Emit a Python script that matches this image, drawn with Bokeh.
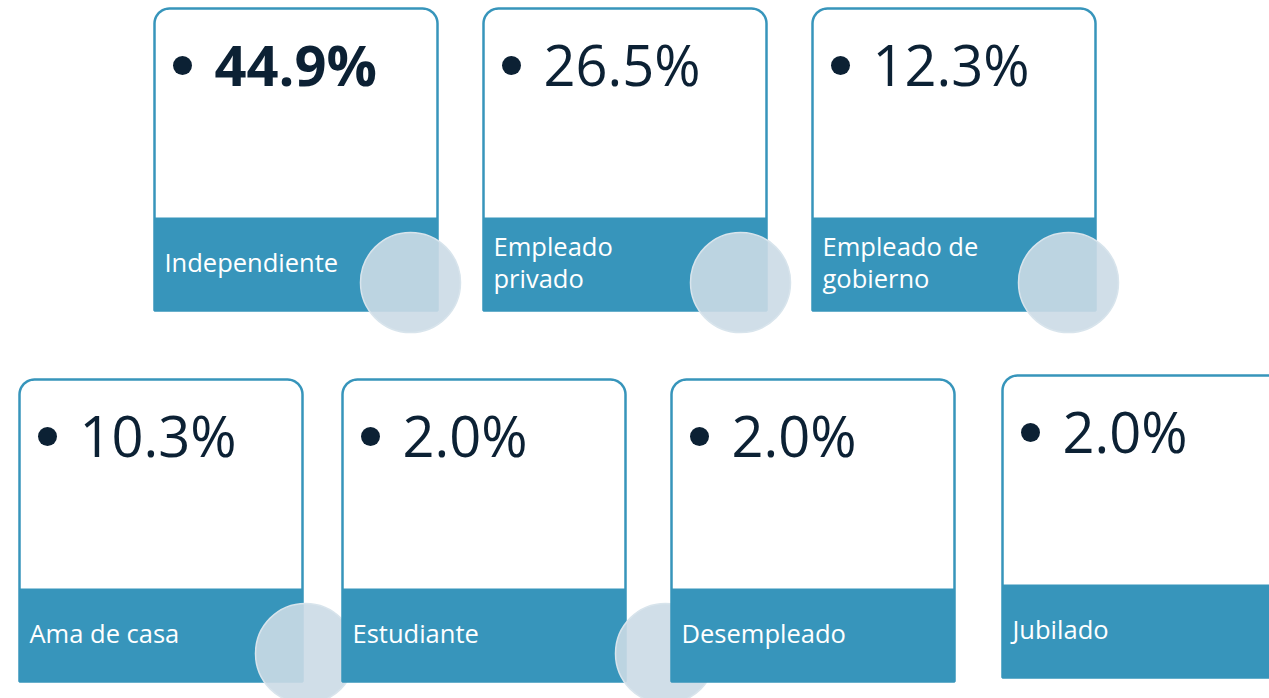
from bokeh.plotting import figure
from bokeh.models import Range1d
from bokeh.core.properties import value
from bokeh.embed import file_html
from bokeh.resources import INLINE
import numpy as np

# ---- data ----
categories = ["Independiente", "Empleado\nprivado", "Empleado de\ngobierno",
              "Ama de casa", "Estudiante", "Desempleado", "Jubilado"]
percentages = [44.9, 26.5, 12.3, 10.3, 2.0, 2.0, 2.0]

# ---- layout (page pixels) ----
card_left = [154, 483, 812, 19, 342, 671, 1002]
card_top = [8, 8, 8, 379, 379, 379, 375]
circle_dx = [256, 257, 256, 286, 323, None, None]
CARD_W, CARD_H, BAND_H, CORNER = 283, 302, 93, 15
CIRCLE_DY, CIRCLE_R = 274, 50

BLUE = "#3795bb"
DARK = "#0c2134"
FONT = "Open Sans"
VAL_SIZE, LAB_SIZE = 56, 25.5
BASE_SHIFT = 0.43  # bokeh places alphabetic baseline ~0.43em lower

W, H = 1269, 698
p = figure(width=W, height=H, output_backend="svg", toolbar_location=None,
           x_range=Range1d(0, W), y_range=Range1d(H, 0),
           min_border=0, outline_line_color=None)
p.axis.visible = False
p.grid.visible = False
p.background_fill_color = "white"
p.border_fill_color = "white"


def card_outline(x0, y0, w, h, r):
    t1 = np.linspace(np.pi, 1.5 * np.pi, 12)
    t2 = np.linspace(1.5 * np.pi, 2 * np.pi, 12)
    xs = [x0] + list(x0 + r + r * np.cos(t1)) + list(x0 + w - r + r * np.cos(t2)) + [x0 + w]
    ys = [y0 + h] + list(y0 + r + r * np.sin(t1)) + list(y0 + r + r * np.sin(t2)) + [y0 + h]
    return xs, ys


for i, cat in enumerate(categories):
    x0, y0 = card_left[i], card_top[i]
    xs, ys = card_outline(x0, y0, CARD_W, CARD_H, CORNER)
    p.patch(xs, ys, fill_color="white", line_color=BLUE, line_width=2.5)
    p.quad(left=[x0], right=[x0 + CARD_W], top=[y0 + CARD_H - BAND_H],
           bottom=[y0 + CARD_H], fill_color=BLUE, line_color=None)
    if circle_dx[i] is not None:
        p.circle(x=[x0 + circle_dx[i]], y=[y0 + CIRCLE_DY], radius=CIRCLE_R,
                 fill_color="#cbdae5", fill_alpha=0.9,
                 line_color="#d8e4ec", line_width=1.5)

# texts
top_max = max(percentages)
for i, (cat, v) in enumerate(zip(categories, percentages)):
    x0, y0 = card_left[i], card_top[i]
    p.scatter(x=[x0 + 28], y=[y0 + 57], size=19, marker="circle",
              fill_color=DARK, line_color=None)
    p.text(x=[x0 + 60], y=[y0 + 80 - BASE_SHIFT * VAL_SIZE], text=[f"{v:.1f}%"],
           text_font=value(FONT), text_font_size=f"{VAL_SIZE}px",
           text_font_style="bold" if v == top_max else "normal",
           text_color=DARK, text_align="left", text_baseline="alphabetic")
    lines = cat.split("\n")
    n = len(lines)
    for j, ln in enumerate(lines):
        base = y0 + 264 + (j - (n - 1) / 2) * 32 - BASE_SHIFT * LAB_SIZE
        p.text(x=[x0 + 10], y=[base], text=[ln],
               text_font=value(FONT), text_font_size=f"{LAB_SIZE}px",
               text_color="white", text_align="left", text_baseline="alphabetic")

open("out.html", "w").write(file_html(p, INLINE))
